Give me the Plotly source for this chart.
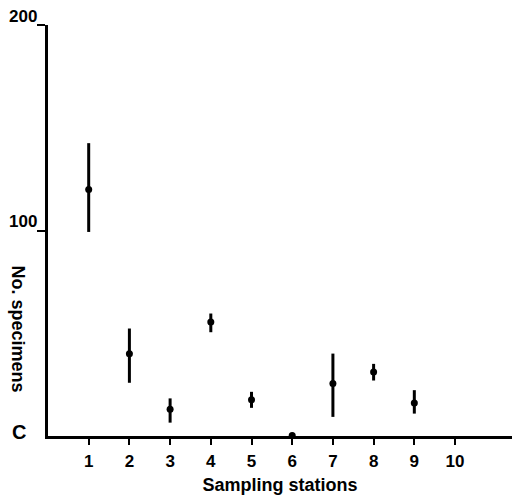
import plotly.graph_objects as go

stations = [1, 2, 3, 4, 5, 6, 7, 8, 9]
means = [120, 40, 13, 55.5, 17.7, 0.3, 25.5, 31.2, 16.1]
err_plus = [22.5, 12.3, 5.3, 4.1, 3.8, 0, 14.6, 3.9, 6.2]
err_minus = [20.7, 14.1, 6.5, 5.0, 4.0, 0, 16.2, 4.2, 5.2]
x_ticks = [1, 2, 3, 4, 5, 6, 7, 8, 9, 10]
y_ticks = [100, 200]

FONT = "Liberation Sans"

fig = go.Figure()
fig.add_trace(go.Scatter(
    x=stations, y=means, mode="markers",
    marker=dict(color="black", size=7),
    error_y=dict(type="data", symmetric=False, array=err_plus, arrayminus=err_minus,
                 color="black", thickness=3, width=0),
    showlegend=False, cliponaxis=False,
))

annotations = [
    dict(text=str(v), xref="paper", yref="y", x=0, y=v, xanchor="right", yanchor="middle",
         xshift=-9, yshift=9, showarrow=False,
         font=dict(family=FONT, size=17, color="black", weight="bold"))
    for v in y_ticks
]
annotations += [
    dict(text="No. specimens", textangle=90, xref="paper", yref="paper",
         x=-48/464, y=(436.5-329)/411, xanchor="center", yanchor="middle",
         xshift=18, showarrow=False,
         font=dict(family=FONT, size=18, color="black", weight="bold")),
    dict(text="C", xref="paper", yref="paper", x=-48/464, y=(436.5-432)/411,
         xanchor="center", yanchor="middle", xshift=19, showarrow=False,
         font=dict(family=FONT, size=20, color="black", weight="bold")),
]

fig.update_layout(
    width=512, height=498,
    margin=dict(l=48, r=0, t=25, b=62),
    plot_bgcolor="white", paper_bgcolor="white",
    xaxis=dict(range=[0, 11.4], tickvals=x_ticks, ticktext=[str(v) for v in x_ticks],
               showgrid=False, zeroline=False, showline=True, linecolor="black", linewidth=3,
               ticks="outside", ticklen=6, tickwidth=2, tickcolor="black",
               ticklabelstandoff=2,
               tickfont=dict(family=FONT, size=17, color="black", weight="bold"),
               title=dict(text="Sampling stations", standoff=8,
                          font=dict(family=FONT, size=18, color="black", weight="bold"))),
    yaxis=dict(range=[0, 200], tickvals=y_ticks, showticklabels=False,
               showgrid=False, zeroline=False, showline=True, linecolor="black", linewidth=3,
               ticks="outside", ticklen=8, tickwidth=2, tickcolor="black"),
    annotations=annotations,
)

fig.write_html("out.html")
